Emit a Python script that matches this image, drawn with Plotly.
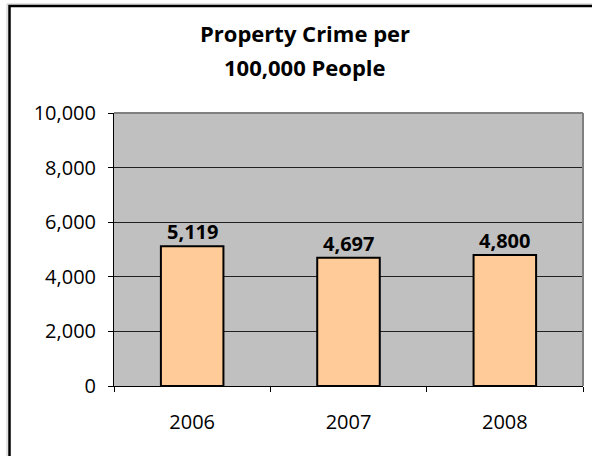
import plotly.graph_objects as go

# Chart data
years = ["2006", "2007", "2008"]
crime_rate = [5119, 4697, 4800]
y_ticks = [0, 2000, 4000, 6000, 8000, 10000]
title_lines = ["Property Crime per", "100,000 People"]

# Canvas and plot-area geometry (pixels)
W, H = 592, 456
L, R, T, B = 114, 9, 113, 70
PW, PH = W - L - R, H - T - B


def px_x(x):
    return (x - L) / PW


def px_y(y):
    return (H - B - y) / PH


FONT = "Open Sans"

fig = go.Figure(
    go.Bar(
        x=years,
        y=crime_rate,
        marker=dict(color="#FFCC99", line=dict(color="black", width=2)),
        cliponaxis=False,
    )
)

# Value labels sitting just above each bar (category axis uses serial index)
for idx, val in enumerate(crime_rate):
    fig.add_annotation(
        x=idx,
        y=val,
        xref="x",
        yref="y",
        text=f"{val:,}",
        showarrow=False,
        xanchor="center",
        yanchor="bottom",
        yshift=-1,
        font=dict(family=FONT, size=20, color="black", weight="bold"),
    )

fig.update_layout(
    width=W,
    height=H,
    margin=dict(l=L, r=R, t=T, b=B, pad=0),
    paper_bgcolor="white",
    plot_bgcolor="#C0C0C0",
    bargap=0.6,
    showlegend=False,
    font=dict(family=FONT, color="black"),
)

fig.update_xaxes(
    type="category",
    range=[-0.5, 2.5],
    showgrid=False,
    showline=True,
    linecolor="black",
    linewidth=1,
    ticks="outside",
    tickson="boundaries",
    ticklen=5,
    tickcolor="black",
    tickfont=dict(family=FONT, size=20, color="black"),
    ticklabelstandoff=18,
)

fig.update_yaxes(
    range=[0, 10000],
    tickvals=y_ticks,
    tickformat=",",
    showgrid=True,
    gridcolor="#202020",
    gridwidth=1,
    zeroline=False,
    showline=True,
    linecolor="black",
    linewidth=1,
    ticks="outside",
    ticklen=5,
    tickcolor="black",
    tickfont=dict(family=FONT, size=20, color="black"),
    ticklabelstandoff=8,
)

# Two-line chart title
for text, yc in zip(title_lines, [33, 67.5]):
    fig.add_annotation(
        text=text,
        xref="paper",
        yref="paper",
        x=px_x(305),
        y=px_y(yc),
        xanchor="center",
        yanchor="middle",
        showarrow=False,
        font=dict(family=FONT, size=22, color="black", weight="bold"),
    )

# Gray plot-area border along the top and right edges
fig.add_shape(type="line", xref="paper", yref="paper", x0=0, x1=1, y0=1, y1=1,
              line=dict(color="#808080", width=2), layer="above")
fig.add_shape(type="line", xref="paper", yref="paper", x0=1, x1=1, y0=0, y1=1,
              line=dict(color="#808080", width=2), layer="above")

# Outer chart frame
fig.add_shape(type="rect", xref="paper", yref="paper",
              x0=px_x(7), x1=px_x(640), y0=px_y(500), y1=px_y(4),
              line=dict(color="#C8C8C8", width=1), fillcolor="rgba(0,0,0,0)", layer="above")
fig.add_shape(type="rect", xref="paper", yref="paper",
              x0=px_x(9.5), x1=px_x(640), y0=px_y(500), y1=px_y(6),
              line=dict(color="black", width=2.5), fillcolor="rgba(0,0,0,0)", layer="above")

fig.write_html("out.html")
